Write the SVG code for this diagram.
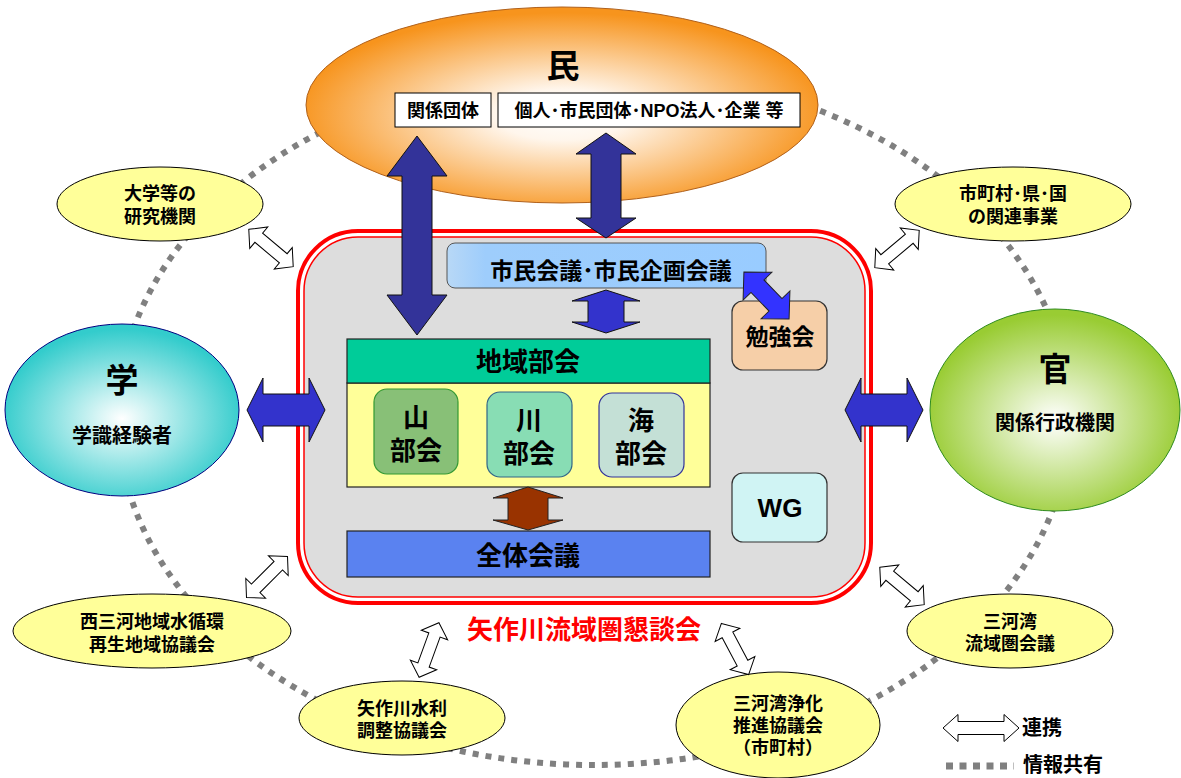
<svg xmlns="http://www.w3.org/2000/svg" width="1181" height="778" viewBox="0 0 1181 778">
<defs>
<radialGradient id="gMin" cx="50%" cy="55%" r="52%"><stop offset="0" stop-color="#FFFFFF"/><stop offset="0.25" stop-color="#FFF6EC"/><stop offset="1" stop-color="#F7941D"/></radialGradient>
<radialGradient id="gGaku" cx="50%" cy="55%" r="52%"><stop offset="0" stop-color="#FFFFFF"/><stop offset="1" stop-color="#33CCCC"/></radialGradient>
<radialGradient id="gKan" cx="50%" cy="55%" r="52%"><stop offset="0" stop-color="#FFFFFF"/><stop offset="1" stop-color="#99CC33"/></radialGradient>
<linearGradient id="gShimin" x1="0" y1="0" x2="1" y2="0"><stop offset="0" stop-color="#B8D8F6"/><stop offset="0.12" stop-color="#9ECDFC"/><stop offset="1" stop-color="#99CCFF"/></linearGradient>
<style>
text{font-family:'Liberation Sans','Noto Sans CJK JP',sans-serif;font-weight:bold;fill:#000;text-anchor:middle;dominant-baseline:central}
.yel{fill:#FFFF99;stroke:#000;stroke-width:1}
.t18{font-size:18px}
.navy{fill:#333399;stroke:#111;stroke-width:1}
.blue{fill:#3333CC;stroke:#111;stroke-width:1}
.wa{fill:#FFFFFF;stroke:#000;stroke-width:1}
.box{stroke:#333;stroke-width:1.2}
</style>
<polygon id="wArrow" points="-29,0 -16,-14 -16,-6 16,-6 16,-14 29,0 16,14 16,6 -16,6 -16,14"/>
</defs>
<rect width="1181" height="778" fill="#FFFFFF"/>

<g id="info-ring">
<ellipse cx="594" cy="417" rx="476" ry="348" fill="none" stroke="#808080" stroke-width="6" stroke-dasharray="6 7"/>
</g>

<g id="node-min">
<ellipse cx="562" cy="105" rx="256" ry="98" fill="url(#gMin)" stroke="#B0601A" stroke-width="1"/>
<text x="563" y="66" style="font-size:33px">民</text>
<rect x="395" y="93" width="96" height="34" fill="#FFFFFF" stroke="#000" stroke-width="1"/>
<text x="443" y="111" class="t18">関係団体</text>
<rect x="498" y="93" width="302" height="34" fill="#FFFFFF" stroke="#000" stroke-width="1"/>
<text x="649" y="111" class="t18">個人･市民団体･NPO法人･企業 等</text>
</g>

<g id="node-gaku">
<ellipse cx="122" cy="410" rx="117" ry="86" fill="url(#gGaku)" stroke="#000080" stroke-width="1"/>
<text x="122" y="380" style="font-size:33px">学</text>
<text x="122" y="436" style="font-size:20px">学識経験者</text>
</g>

<g id="node-kan">
<ellipse cx="1055" cy="410" rx="125" ry="101" fill="url(#gKan)" stroke="#2E8B1E" stroke-width="1"/>
<text x="1055" y="369" style="font-size:33px">官</text>
<text x="1055" y="423" style="font-size:20px">関係行政機関</text>
</g>

<g id="node-daigaku">
<ellipse cx="160" cy="204" rx="103" ry="37" class="yel"/>
<text x="160" y="194" class="t18">大学等の</text>
<text x="160" y="217" class="t18">研究機関</text>
</g>

<g id="node-shichoson">
<ellipse cx="1013" cy="204" rx="118" ry="37" class="yel"/>
<text x="1013" y="194" class="t18">市町村･県･国</text>
<text x="1013" y="217" class="t18">の関連事業</text>
</g>

<g id="node-nishimikawa">
<ellipse cx="152" cy="631" rx="139" ry="37" class="yel"/>
<text x="152" y="622" class="t18">西三河地域水循環</text>
<text x="152" y="645" class="t18">再生地域協議会</text>
</g>

<g id="node-suiri">
<ellipse cx="402" cy="718" rx="103" ry="37" class="yel"/>
<text x="402" y="709" class="t18">矢作川水利</text>
<text x="402" y="731" class="t18">調整協議会</text>
</g>

<g id="node-jouka">
<ellipse cx="778" cy="725" rx="102" ry="53" class="yel"/>
<text x="778" y="704" class="t18">三河湾浄化</text>
<text x="778" y="726" class="t18">推進協議会</text>
<text x="778" y="748" class="t18">（市町村）</text>
</g>

<g id="node-mikawawan">
<ellipse cx="1010" cy="631" rx="103" ry="37" class="yel"/>
<text x="1010" y="622" class="t18">三河湾</text>
<text x="1010" y="644" class="t18">流域圏会議</text>
</g>

<g id="node-kondankai">
<rect x="298" y="231" width="573" height="372" rx="60" fill="#FFFFFF" stroke="#FF0000" stroke-width="4"/>
<rect x="304" y="237" width="561" height="360" rx="54" fill="#DDDDDD" stroke="#FF0000" stroke-width="1.5"/>
<text x="584" y="630" style="font-size:26px;fill:#FF0000">矢作川流域圏懇談会</text>
</g>

<g id="node-shimin">
<rect x="447" y="243" width="319" height="45" rx="8" fill="url(#gShimin)" stroke="#555" stroke-width="1"/>
<text x="611" y="271" style="font-size:23px">市民会議･市民企画会議</text>
</g>

<g id="node-benkyo">
<rect x="732" y="301" width="95" height="69" rx="11" fill="#F6CFA8" class="box"/>
<text x="780" y="337" style="font-size:23px">勉強会</text>
</g>

<g id="node-chiiki">
<rect x="347" y="383" width="363" height="104" fill="#FFFF99" stroke="#222" stroke-width="1.2"/>
<rect x="347" y="339" width="363" height="44" fill="#00CC99" stroke="#222" stroke-width="1.2"/>
<text x="528" y="362" style="font-size:26px">地域部会</text>
</g>

<g id="node-yama">
<rect x="374" y="389" width="84" height="85" rx="13" fill="#88C077" stroke="#339933" stroke-width="1.2"/>
<text x="416" y="418" style="font-size:26px">山</text>
<text x="416" y="451" style="font-size:26px">部会</text>
</g>

<g id="node-kawa">
<rect x="487" y="392" width="85" height="85" rx="13" fill="#88DDB4" stroke="#336688" stroke-width="1.2"/>
<text x="529" y="421" style="font-size:26px">川</text>
<text x="529" y="454" style="font-size:26px">部会</text>
</g>

<g id="node-umi">
<rect x="599" y="393" width="85" height="84" rx="13" fill="#C4E0D6" stroke="#333399" stroke-width="1.2"/>
<text x="641" y="421" style="font-size:26px">海</text>
<text x="641" y="454" style="font-size:26px">部会</text>
</g>

<g id="node-zentai">
<rect x="347" y="531" width="363" height="46" fill="#5A82F0" stroke="#222" stroke-width="1.2"/>
<text x="528" y="556" style="font-size:26px">全体会議</text>
</g>

<g id="node-wg">
<rect x="732" y="473" width="95" height="69" rx="11" fill="#D0F4F4" class="box"/>
<text x="780" y="508" style="font-size:26px">WG</text>
</g>

<g id="legend">
<polygon class="wa" points="943,728 958,714.5 958,721.5 1004,721.5 1004,714.5 1019,728 1004,741.5 1004,734.5 958,734.5 958,741.5"/>
<text x="1042" y="728" style="font-size:20px">連携</text>
<line x1="946" y1="766" x2="1014" y2="766" stroke="#808080" stroke-width="7" stroke-dasharray="7 6.5"/>
<text x="1063" y="765" style="font-size:20px">情報共有</text>
</g>

<g id="connectors">
<polygon class="navy" points="417,136 447,176 432,176 432,295 447,295 417,335 387,295 402,295 402,176 387,176"/>
<polygon class="navy" points="606,133 636,154 621,154 621,218 636,218 606,238 576,218 591,218 591,154 576,154"/>
<polygon class="blue" points="606,290 640,301 624,301 624,322 640,322 606,333 572,322 588,322 588,301 572,301"/>
<polygon fill="#993300" stroke="#222" stroke-width="1" points="528,487 563,498 548,498 548,520 563,520 528,530 493,520 508,520 508,498 493,498"/>
<polygon class="blue" points="247,410 263,378 263,394 309,394 309,378 325,410 309,442 309,426 263,426 263,442"/>
<polygon class="blue" points="845,410 861,378 861,394 907,394 907,378 923,410 907,442 907,426 861,426 861,442"/>
<polygon fill="#3333FF" stroke="#222" stroke-width="1" transform="translate(766.5,295.5) rotate(46)" points="-32.5,0 -13,-20 -13,-9 13,-9 13,-20 32.5,0 13,20 13,9 -13,9 -13,20"/>
<use href="#wArrow" class="wa" transform="translate(271,248) rotate(40)"/>
<use href="#wArrow" class="wa" transform="translate(897,249) rotate(-40)"/>
<use href="#wArrow" class="wa" transform="translate(267,577) rotate(-45)"/>
<use href="#wArrow" class="wa" transform="translate(429,650) rotate(-70)"/>
<use href="#wArrow" class="wa" transform="translate(735,649) rotate(62)"/>
<use href="#wArrow" class="wa" transform="translate(902,586) rotate(40)"/>
</g>
</svg>
